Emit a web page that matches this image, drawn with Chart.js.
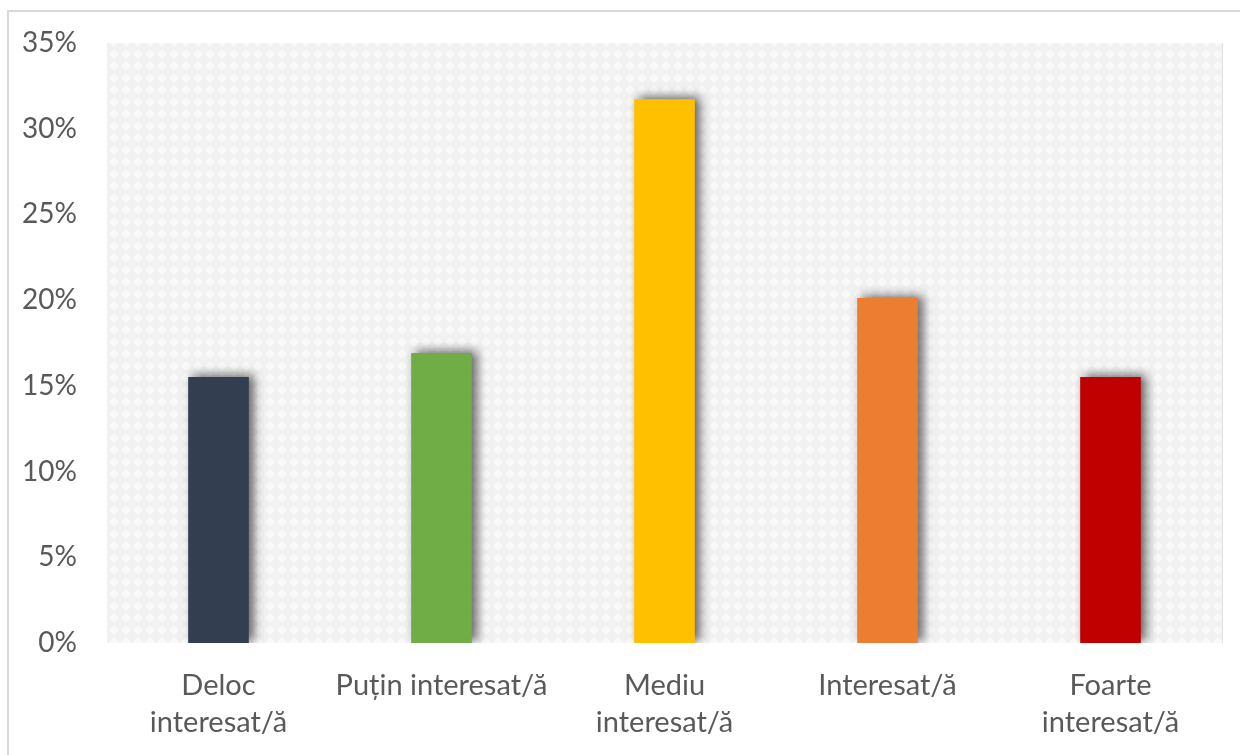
<!DOCTYPE html>
<html>
<head>
<meta charset="utf-8">
<script src="https://cdn.jsdelivr.net/npm/chart.js@4"></script>
<style>
  html, body { margin: 0; padding: 0; background: #fff; }
  #wrap { position: relative; width: 1240px; height: 755px; overflow: hidden; }
  #frame { position: absolute; left: 7px; top: 10px; width: 1260px; height: 780px; border: 2px solid #d9d9d9; }
  canvas { position: absolute; left: 0; top: 0; }
</style>
</head>
<body>
<div id="wrap">
  <div id="frame"></div>
  <canvas id="barChart" width="1240" height="755"></canvas>
</div>
<script>
    // categories and values (percent)
    const categories = [
        ['Deloc', 'interesat/ă'],
        'Puțin interesat/ă',
        ['Mediu', 'interesat/ă'],
        'Interesat/ă',
        ['Foarte', 'interesat/ă']
    ];
    const values = [15.5, 16.9, 31.7, 20.1, 15.5];
    const barColors = ['#333f50', '#70ad47', '#ffc000', '#ed7d31', '#c00000'];
    const yTicks = [0, 5, 10, 15, 20, 25, 30, 35];

    // light textured background for the plot area
    function makePattern(ctx) {
        const c = document.createElement('canvas');
        c.width = 12; c.height = 12;
        const p = c.getContext('2d');
        p.fillStyle = '#f1f1f1';
        p.fillRect(0, 0, 12, 12);
        p.fillStyle = '#f9f9f9';
        p.beginPath();
        p.moveTo(6, 1); p.lineTo(11, 6); p.lineTo(6, 11); p.lineTo(1, 6);
        p.closePath();
        p.fill();
        return ctx.createPattern(c, 'repeat');
    }

    const bgPlugin = {
        id: 'plotBg',
        beforeDraw(chart) {
            const { ctx, chartArea: a } = chart;
            ctx.save();
            ctx.fillStyle = makePattern(ctx);
            ctx.fillRect(a.left, a.top, a.right - a.left, a.bottom - a.top);
            ctx.strokeStyle = '#e2e2e2';
            ctx.lineWidth = 1;
            ctx.beginPath();
            ctx.moveTo(a.right + 0.5, a.top);
            ctx.lineTo(a.right + 0.5, a.bottom);
            ctx.stroke();
            ctx.restore();
        }
    };

    const shadowPlugin = {
        id: 'barShadow',
        beforeDatasetsDraw(chart) {
            const ctx = chart.ctx;
            ctx.save();
            ctx.shadowColor = 'rgba(0, 0, 0, 0.6)';
            ctx.shadowBlur = 10;
            ctx.shadowOffsetX = 5;
            ctx.shadowOffsetY = -2;
        },
        afterDatasetsDraw(chart) {
            chart.ctx.restore();
        }
    };

    const ctx = document.getElementById('barChart').getContext('2d');
    const barChart = new Chart(ctx, {
        type: 'bar',
        data: {
            labels: categories,
            datasets: [{
                data: values,
                backgroundColor: barColors,
                barThickness: 60
            }]
        },
        plugins: [bgPlugin, shadowPlugin],
        options: {
            responsive: false,
            animation: false,
            layout: { padding: { top: 43, right: 18, left: 0, bottom: 0 } },
            plugins: {
                legend: { display: false },
                tooltip: { enabled: false }
            },
            scales: {
                x: {
                    grid: { display: false, drawTicks: false },
                    border: { display: false },
                    ticks: {
                        color: '#595959',
                        font: { family: 'Lato', size: 29, lineHeight: 1.25 },
                        padding: 25,
                        maxRotation: 0,
                        autoSkip: false
                    },
                    afterFit(scale) { scale.height = 112; }
                },
                y: {
                    min: 0,
                    max: 35,
                    grid: { display: false, drawTicks: false },
                    border: { display: false },
                    afterBuildTicks(scale) {
                        scale.ticks = yTicks.map(v => ({ value: v }));
                    },
                    ticks: {
                        color: '#595959',
                        font: { family: 'Lato', size: 28 },
                        padding: 30,
                        callback: v => v + '%'
                    },
                    afterFit(scale) {
                        scale.width = 107;
                        scale.paddingTop = 0;
                        scale.paddingBottom = 0;
                    }
                }
            }
        }
    });
</script>
</body>
</html>
